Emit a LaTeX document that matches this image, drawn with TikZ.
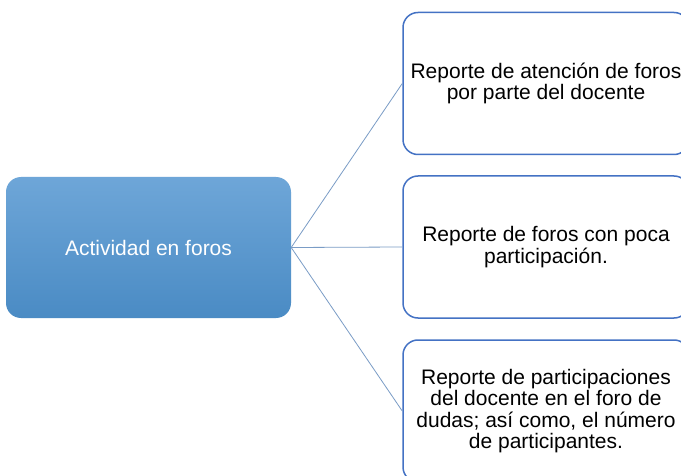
\documentclass[tikz,border=0pt]{standalone}
\usepackage{fontspec}
\setmainfont{Liberation Sans}
\usepackage{tikz}
\definecolor{boxblue}{RGB}{68,114,196}
\definecolor{linkblue}{RGB}{122,156,198}
\definecolor{filltop}{RGB}{110,166,216}
\definecolor{fillbot}{RGB}{74,139,196}

\begin{document}
\begin{tikzpicture}[x=1pt,y=-1pt,
        mainbox/.style={rounded corners=15pt, top color=filltop, bottom color=fillbot,
            draw=none, text=white, minimum width=285pt, minimum height=141pt, inner sep=0pt},
        repbox/.style={rounded corners=15pt, draw=boxblue, line width=1.5pt, fill=white,
            align=center, minimum width=286pt, minimum height=142pt, inner sep=0pt},
        link/.style={draw=linkblue, line width=0.8pt}]
        \clip (0,0) rectangle (681,476);
        \fill[white] (0,0) rectangle (681,476);
        \fontsize{21}{21.5}\selectfont
        % Left box
        \node[mainbox] (act) at (148.5,247.5) {Actividad en foros};
        % Report boxes
        \node[repbox] (rep1) at (546,83.5) {Reporte de atención de foros\\por parte del docente};
        \node[repbox] (rep2) at (546,247) {Reporte de foros con poca\\participación.};
        \node[repbox] (rep3) at (546,411) {Reporte de participaciones\\del docente en el foro de\\dudas; así como, el número\\de participantes.};
        % Links
        \draw[link] (act.east) -- (rep1.west);
        \draw[link] (act.east) -- (rep2.west);
        \draw[link] (act.east) -- (rep3.west);
    \end{tikzpicture}
\end{document}
